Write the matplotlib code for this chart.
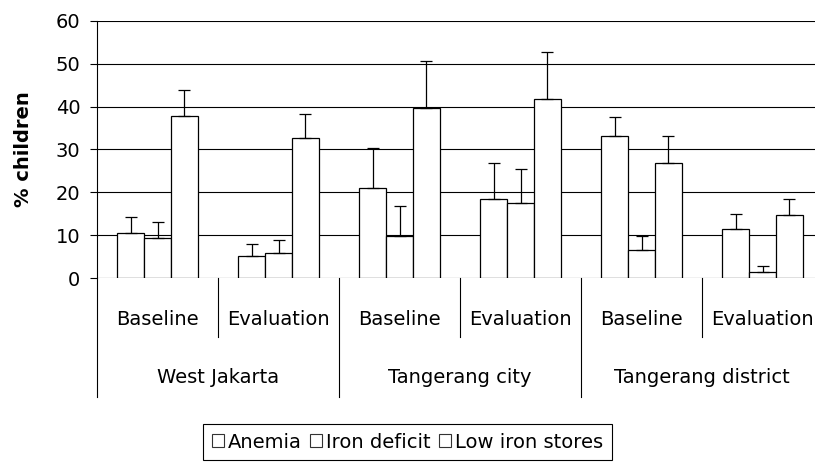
import matplotlib
matplotlib.use('Agg')
import matplotlib.pyplot as plt
from matplotlib.patches import Patch
from matplotlib.lines import Line2D
import matplotlib.transforms as mtransforms
import numpy as np

plt.rcParams['font.family'] = 'DejaVu Sans'

# data
cities = ['West Jakarta', 'Tangerang city', 'Tangerang district']
phases = ['Baseline', 'Evaluation']
series = ['Anemia', 'Iron deficit', 'Low iron stores']

anemia = [10.6, 5.1, 21.1, 18.4, 33.1, 11.5]
anemia_err = [3.7, 2.8, 9.3, 8.5, 4.4, 3.5]
iron_def = [9.3, 5.8, 9.9, 17.4, 6.5, 1.3]
iron_def_err = [3.7, 3.1, 6.8, 8.1, 3.4, 1.4]
low_stores = [37.8, 32.8, 39.8, 41.9, 26.9, 14.6]
low_stores_err = [6.2, 5.6, 10.9, 10.9, 6.2, 3.8]

W, H = 815, 465
fs = 14

def fy(p):
    # pixel row from top -> figure fraction
    return 1 - p / H

fig = plt.figure(figsize=(W / 100, H / 100), dpi=100)
ax = fig.add_axes([97 / W, fy(278), 726 / W, (278 - 21) / H])

x = np.arange(6) + 0.5
bw = 0.222
vals = [anemia, iron_def, low_stores]
errs = [anemia_err, iron_def_err, low_stores_err]
for k in range(3):
    xs = x + (k - 1) * bw
    ax.bar(xs, vals[k], bw, color='white', edgecolor='black', linewidth=0.9, zorder=3)
    ax.errorbar(xs, vals[k], yerr=[np.zeros(6), errs[k]], fmt='none',
                ecolor='black', elinewidth=0.9, capsize=4, capthick=0.9, zorder=4)

ax.set_xlim(0, 6)
ax.set_ylim(0, 60)
ax.set_yticks(range(0, 61, 10))
ax.set_xticks([])
ax.yaxis.grid(True, color='black', linewidth=0.8)
ax.set_axisbelow(True)
for s in ['top', 'right', 'bottom']:
    ax.spines[s].set_visible(False)
ax.spines['left'].set_linewidth(0.8)
ax.tick_params(axis='y', length=5, width=0.8, pad=7, labelsize=fs)
ax.set_ylabel('% children', fontsize=fs, fontweight='bold', labelpad=16)

# two level category axis drawn by hand
trans = mtransforms.blended_transform_factory(ax.transData, fig.transFigure)
for xb in [1, 3, 5]:
    ax.add_line(Line2D([xb, xb], [fy(278), fy(337)], transform=trans,
                       color='black', linewidth=0.8, clip_on=False))
for xb in [0, 2, 4, 6]:
    ax.add_line(Line2D([xb, xb], [fy(278), fy(397)], transform=trans,
                       color='black', linewidth=0.8, clip_on=False))
for i in range(6):
    ax.text(x[i], fy(325), phases[i % 2], transform=trans, ha='center',
            va='baseline', fontsize=fs, clip_on=False)
for j, c in enumerate(cities):
    ax.text(2 * j + 1, fy(383), c, transform=trans, ha='center',
            va='baseline', fontsize=fs, clip_on=False)

handles = [Patch(facecolor='white', edgecolor='#333333', linewidth=0.8) for s in series]
leg = fig.legend(handles, series, loc='center', bbox_to_anchor=(0.5, fy(442)),
                 ncol=3, fontsize=fs, frameon=True, fancybox=False,
                 edgecolor='black', framealpha=1, handlelength=0.6,
                 handleheight=0.6, handletextpad=0.2, columnspacing=0.45,
                 borderpad=0.45, borderaxespad=0)
leg.get_frame().set_linewidth(0.8)

fig.savefig('out.png', dpi=100)
